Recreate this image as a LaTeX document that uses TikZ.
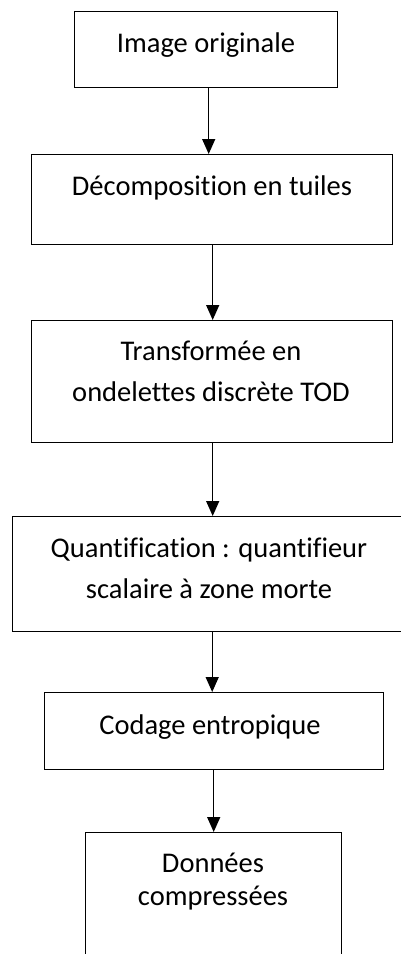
\documentclass[tikz,border=0pt]{standalone}
\usepackage{fontspec}
\setmainfont{Carlito}[RawFeature={-liga}]
\usetikzlibrary{arrows.meta}
\begin{document}
\begin{tikzpicture}[x=1pt,y=1pt,
  box/.style={draw=black,line width=1.4pt,rectangle,inner sep=0pt,anchor=north west},
  label/.style={inner sep=0pt,anchor=base,align=center,font=\fontsize{28.5}{41}\selectfont},
  flow/.style={line width=1.4pt,-{Triangle[width=13pt,length=15pt]}}]
\useasboundingbox (0,0) rectangle (401,-954);
\clip (0,0) rectangle (401,-954);
% process boxes
\node[box,minimum width=263pt,minimum height=76pt] (b1) at (74,-11) {};
\node[box,minimum width=361pt,minimum height=90pt] (b2) at (31,-154) {};
\node[box,minimum width=361pt,minimum height=122pt] (b3) at (31,-320) {};
\node[box,minimum width=400pt,minimum height=115pt] (b4) at (12,-516) {};
\node[box,minimum width=339pt,minimum height=77pt] (b5) at (44,-692) {};
\node[box,minimum width=256pt,minimum height=140pt] (b6) at (85,-832) {};
% captions (base anchor sits on the last line)
\node[label] (t1) at (206,-52) {Image originale};
\node[label] (t2) at (212,-195) {Décomposition en tuiles};
\node[label] (t3) at (211,-401) {Transformée en\\ondelettes discrète TOD};
\node[label] (t4) at (209,-598) {Quantification : quantifieur\\scalaire à zone morte};
\node[label] (t5) at (210,-734) {Codage entropique};
\node[label,font=\fontsize{28.5}{33}\selectfont] (t6) at (213,-905) {Données\\compressées};
% arrows
\draw[flow] ([xshift=2.5pt]b1.south) -- ([xshift=2.5pt]b1.south |- b2.north);
\draw[flow] ([xshift=0.5pt]b2.south) -- ([xshift=0.5pt]b2.south |- b3.north);
\draw[flow] ([xshift=0.5pt]b3.south) -- ([xshift=0.5pt]b3.south |- b4.north);
\draw[flow] (b3.south |- b4.south) -- (b3.south |- b5.north);
\draw[flow] (b6.north |- b5.south) -- (b6.north);
\end{tikzpicture}
\end{document}
